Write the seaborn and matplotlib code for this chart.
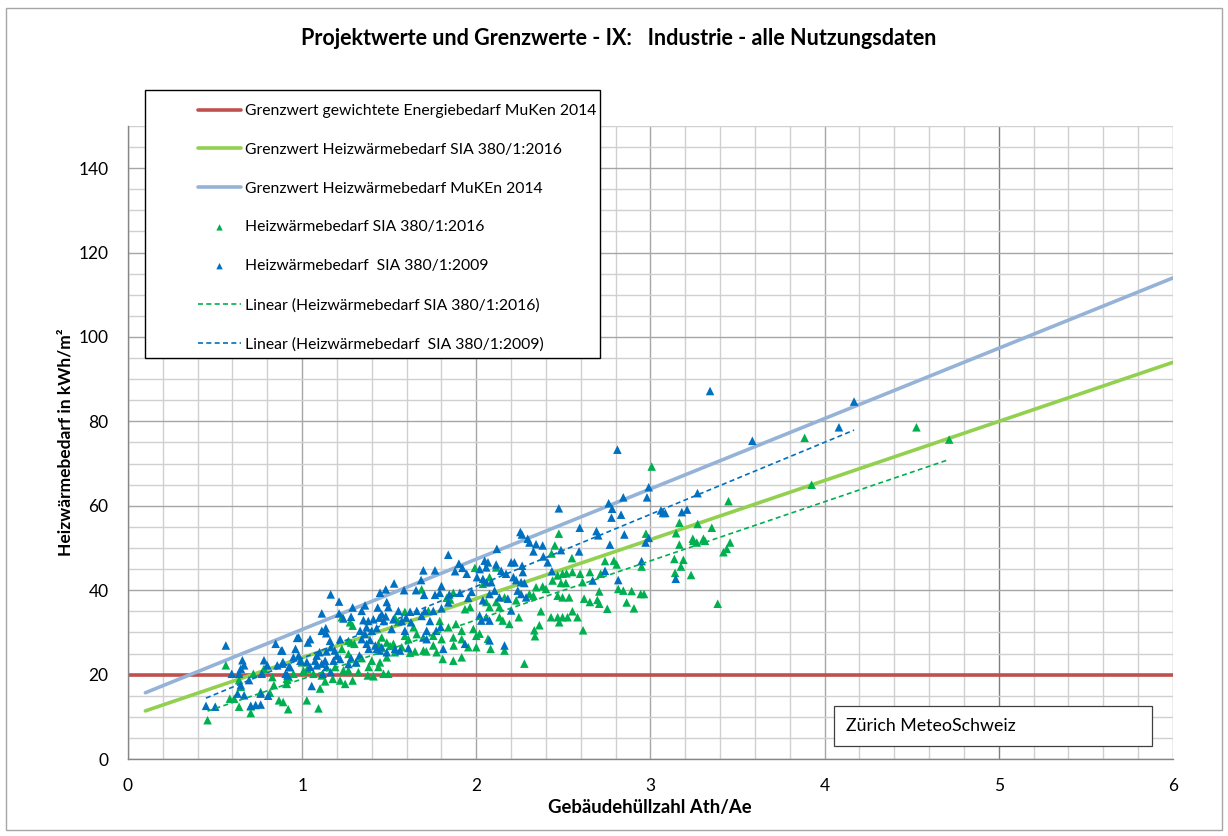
"""Projektwerte und Grenzwerte - Industrie: scatter with limit lines and trends."""

import matplotlib

matplotlib.use("Agg")
import matplotlib.pyplot as plt
import pandas as pd
import seaborn as sns
from matplotlib.patches import Rectangle
from matplotlib.ticker import MultipleLocator

# ---------------------------------------------------------------- data
# Heizwärmebedarf SIA 380/1:2009 (blue triangles), (Ath/Ae, kWh/m2)
sia2009_pts = [
    (0.562, 26.9), (0.657, 23.4), (0.667, 22.2), (0.648, 21.4), (0.596, 20.2), (0.638, 20.2),
    (0.695, 18.7), (0.648, 17.5), (0.629, 15.5), (0.667, 15.1), (0.762, 15.5), (0.805, 15.0),
    (0.768, 20.2), (0.800, 22.2), (0.781, 23.4), (0.857, 22.2), (0.886, 22.6), (0.924, 21.8),
    (0.905, 20.2), (0.848, 27.3), (0.886, 25.7), (0.962, 26.1), (0.971, 28.7), (0.448, 12.6),
    (0.501, 12.4), (0.705, 12.6), (0.733, 12.8), (0.762, 12.9),
    (1.839, 48.4), (1.900, 46.3), (1.696, 44.7), (1.763, 44.7), (1.878, 44.5), (1.920, 45.3),
    (1.945, 43.9), (1.683, 42.4), (1.800, 41.0), (1.528, 41.6), (1.447, 39.4), (1.480, 40.2),
    (1.585, 40.0), (1.654, 40.0), (1.700, 38.9), (1.763, 38.9), (1.790, 39.4), (1.845, 39.0),
    (1.906, 39.4), (1.954, 38.2), (1.973, 39.6), (1.164, 39.0), (1.212, 37.3), (1.486, 37.2),
    (1.495, 36.0), (1.434, 35.9), (1.361, 36.4), (1.290, 35.9), (1.113, 34.5), (1.212, 34.5),
    (1.342, 35.1), (1.457, 34.3), (1.553, 35.1), (1.620, 34.9), (1.658, 35.1), (1.705, 35.1),
    (1.753, 35.1), (1.800, 35.7), (1.839, 37.1), (1.237, 33.3), (1.281, 33.7), (1.352, 32.9),
    (1.380, 32.7), (1.409, 33.1), (1.443, 33.5), (1.480, 33.8), (1.524, 33.1), (1.469, 32.7),
    (1.572, 32.7), (1.597, 33.5), (1.625, 32.4), (1.686, 33.9), (1.734, 32.7), (1.136, 31.0),
    (1.138, 29.8), (1.113, 30.4), (1.333, 30.4), (1.361, 29.6), (1.370, 31.2), (1.400, 30.4),
    (1.428, 31.0), (1.514, 30.8), (1.590, 30.4), (1.696, 28.8), (1.715, 30.4), (1.770, 30.4),
    (1.795, 31.3), (0.980, 28.8), (1.046, 28.4), (1.033, 27.6), (1.218, 28.4), (1.342, 28.4),
    (1.370, 27.3), (1.390, 28.2), (1.420, 26.9), (1.428, 26.1), (1.382, 26.1), (1.447, 25.7),
    (1.457, 26.5), (1.486, 25.3), (1.533, 26.1), (1.562, 25.7), (1.610, 26.3), (1.715, 28.4),
    (1.810, 26.1), (1.935, 27.3), (1.160, 28.0), (1.166, 26.5), (1.140, 25.5), (1.100, 25.3),
    (1.084, 24.5), (1.187, 25.7), (1.200, 24.5), (1.180, 23.3), (1.218, 23.7), (1.132, 23.3),
    (1.140, 21.8), (1.113, 22.6), (1.084, 22.2), (1.046, 21.8), (1.075, 23.3), (1.027, 23.0),
    (0.990, 23.3), (0.950, 24.1), (0.930, 21.8), (0.890, 23.0), (0.880, 25.7), (0.980, 24.5),
    (1.329, 24.5), (1.310, 22.9), (1.281, 23.9), (1.266, 22.5), (1.164, 20.6), (1.118, 20.2),
    (1.055, 17.3), (0.916, 19.8),
    (2.118, 49.8), (2.305, 51.3), (2.343, 50.9), (2.381, 50.6), (2.328, 49.2), (2.385, 48.0),
    (2.410, 46.6), (2.486, 49.5), (2.590, 49.2), (2.434, 44.5), (2.019, 45.0), (2.057, 45.4),
    (2.067, 46.6), (2.048, 47.0), (2.114, 46.1), (2.143, 44.6), (2.171, 43.9), (2.200, 46.6),
    (2.219, 46.6), (2.263, 45.8), (2.267, 44.3), (2.213, 43.1), (2.257, 41.9), (2.276, 41.7),
    (2.229, 42.4), (2.004, 43.1), (2.038, 42.7), (2.086, 41.9), (2.057, 41.9), (2.076, 39.1),
    (2.105, 39.9), (2.133, 38.3), (2.181, 38.0), (2.238, 39.9), (2.257, 39.1), (2.286, 38.3),
    (2.200, 35.2), (2.038, 37.6), (2.029, 32.8), (2.057, 33.6), (2.076, 32.8), (2.019, 34.0),
    (2.076, 28.1), (2.162, 26.9),
    (2.474, 59.4), (2.594, 54.8), (2.253, 53.8), (2.262, 53.2), (2.295, 52.2),
    (2.767, 50.8), (2.972, 51.3), (2.668, 42.3), (2.739, 44.6), (2.815, 42.4), (2.949, 46.9),
    (3.145, 42.7),
    (3.342, 87.2), (3.585, 75.4), (2.810, 73.3), (2.990, 64.4), (2.980, 62.0), (2.844, 62.0),
    (2.760, 60.6), (2.780, 59.3), (2.776, 57.2), (2.831, 57.9), (3.060, 58.9), (3.072, 58.3),
    (3.085, 58.3), (3.180, 58.5), (3.210, 59.1), (3.270, 63.0), (2.690, 54.0), (2.700, 53.0),
    (2.850, 53.2), (2.990, 52.4),
    (4.169, 84.7), (4.082, 78.6),
]

# Heizwärmebedarf SIA 380/1:2016 (green triangles)
sia2016_pts = [
    (0.457, 9.2), (0.562, 22.2), (0.638, 12.4), (0.705, 12.5), (0.705, 10.9), (0.585, 14.3),
    (0.610, 14.3), (0.638, 18.7), (0.648, 17.1), (0.720, 20.2), (0.762, 15.9), (0.815, 15.7),
    (0.838, 17.5), (0.781, 21.4), (0.867, 13.9), (0.891, 13.5), (0.920, 11.8), (0.909, 17.9),
    (0.924, 19.4), (0.829, 19.4),
    (1.992, 45.3), (1.868, 39.4), (1.830, 38.2), (1.850, 37.8), (1.935, 35.5), (1.964, 36.0),
    (1.686, 40.2), (1.590, 34.9), (1.725, 35.1), (1.228, 33.6), (1.275, 32.4), (1.290, 31.6),
    (1.533, 33.5), (1.552, 32.5), (1.640, 31.2), (1.658, 29.6), (1.753, 29.2), (1.790, 32.7),
    (1.840, 31.2), (1.883, 32.0), (1.916, 30.4), (1.983, 30.8), (2.000, 29.2), (1.868, 28.8),
    (1.916, 28.4), (1.870, 26.9), (1.954, 26.5), (2.000, 26.5), (1.801, 28.4), (1.753, 26.9),
    (1.772, 25.3), (1.696, 25.7), (1.648, 25.5), (1.572, 26.5), (1.524, 27.3), (1.486, 27.6),
    (1.457, 28.8), (1.438, 27.3), (1.505, 26.8), (1.533, 25.3), (1.486, 24.1), (1.447, 22.9),
    (1.400, 23.3), (1.382, 21.8), (1.438, 21.8), (1.342, 23.9), (1.310, 22.9), (1.266, 24.9),
    (1.228, 26.1), (1.300, 27.3), (1.280, 27.6), (1.266, 28.0), (1.807, 23.7), (1.868, 23.3),
    (1.916, 24.1), (1.620, 25.2), (1.713, 25.5), (1.610, 28.4), (1.590, 29.2), (1.377, 19.8),
    (1.410, 19.6), (1.495, 20.2), (1.467, 20.2), (1.323, 20.6), (1.266, 21.0), (1.237, 21.0),
    (1.190, 21.8), (1.176, 19.0), (1.218, 18.6), (1.247, 17.8), (1.290, 18.6), (1.132, 18.4),
    (1.103, 16.7), (1.113, 19.8), (1.065, 20.2), (1.030, 21.4), (0.998, 22.9), (1.008, 20.9),
    (0.950, 20.2), (0.912, 19.0), (0.912, 17.8), (1.027, 13.9), (1.094, 12.0),
    (2.451, 50.6), (2.432, 48.7), (2.549, 47.6), (2.467, 43.5), (2.495, 43.9), (2.518, 44.0),
    (2.552, 44.3), (2.596, 43.9), (2.610, 41.9), (2.486, 41.7), (2.514, 41.7), (2.438, 42.3),
    (2.343, 40.7), (2.381, 40.9), (2.400, 40.3), (2.467, 38.7), (2.495, 38.3), (2.533, 38.3),
    (2.619, 38.0), (2.371, 35.0), (2.429, 33.6), (2.467, 33.6), (2.495, 33.6), (2.524, 33.6),
    (2.552, 35.0), (2.581, 33.6), (2.476, 32.4), (2.362, 31.7), (2.333, 30.5), (2.337, 29.1),
    (2.613, 30.5), (2.244, 33.6), (2.276, 22.6), (2.190, 32.0), (2.152, 32.8), (2.133, 33.6),
    (2.229, 37.6), (2.162, 38.3), (2.305, 39.1), (2.328, 38.7), (2.067, 28.5), (2.082, 26.1),
    (2.162, 25.7), (2.019, 29.7), (2.057, 37.2), (2.114, 37.2), (2.076, 36.0), (2.133, 36.0),
    (2.076, 43.1), (2.038, 41.5), (2.114, 45.4),
    (3.166, 50.8), (3.246, 51.7), (3.266, 51.3), (3.313, 51.7), (3.457, 51.3), (3.419, 49.0),
    (3.438, 49.8), (2.739, 46.9), (2.790, 47.0), (2.806, 46.1), (2.949, 45.6), (3.137, 47.4),
    (3.189, 47.2), (3.175, 45.6), (3.141, 44.1), (3.233, 43.6), (2.714, 43.9), (2.652, 44.3),
    (2.706, 39.7), (2.815, 40.3), (2.844, 39.9), (2.892, 39.8), (2.944, 39.1), (2.963, 39.1),
    (2.695, 37.7), (2.706, 36.8), (2.652, 37.2), (2.752, 35.6), (2.863, 37.1), (2.905, 35.7),
    (3.386, 36.8),
    (3.166, 56.0), (3.271, 55.7), (3.147, 53.5), (3.352, 54.8), (2.974, 53.4), (3.243, 52.2),
    (3.304, 52.2), (3.007, 69.3), (3.448, 61.1), (2.474, 53.4),
    (3.885, 76.1), (4.527, 78.6), (4.715, 75.7), (3.925, 65.0),
]

# limit values (Grenzwerte), read at the ends of the drawn lines
limit_x = [0.1, 6.0]
limit_sia2016 = [11.4, 94.0]
limit_muken = [15.7, 114.0]
energy_x = [0.0, 6.0]
energy_limit = [20.0, 20.0]

LABELS = [
    "Grenzwert gewichtete Energiebedarf MuKen 2014",
    "Grenzwert Heizwärmebedarf SIA 380/1:2016",
    "Grenzwert Heizwärmebedarf MuKEn 2014",
    "Heizwärmebedarf SIA 380/1:2016",
    "Heizwärmebedarf  SIA 380/1:2009",
    "Linear (Heizwärmebedarf SIA 380/1:2016)",
    "Linear (Heizwärmebedarf  SIA 380/1:2009)",
]

RED = "#C0504D"
LIME = "#92D050"
LIGHTBLUE = "#95B3D7"
GREEN = "#00B050"
BLUE = "#0070C0"

# ---------------------------------------------------------------- style
sns.set_style("white")
plt.rcParams["font.family"] = ["Lato", "DejaVu Sans"]
plt.rcParams["text.color"] = "#000000"

df09 = pd.DataFrame(sia2009_pts, columns=["ath_ae", "qh"])
df16 = pd.DataFrame(sia2016_pts, columns=["ath_ae", "qh"])

fig = plt.figure(figsize=(12.28, 8.36), dpi=100)
ax = fig.add_axes([0.1042, 0.0921, 0.8510, 0.7572])

# limit lines
sns.lineplot(x=energy_x, y=energy_limit, color=RED, lw=2.6, ax=ax, label=LABELS[0], zorder=2)
sns.lineplot(x=limit_x, y=limit_sia2016, color=LIME, lw=2.6, ax=ax, label=LABELS[1], zorder=2)
sns.lineplot(x=limit_x, y=limit_muken, color=LIGHTBLUE, lw=2.6, ax=ax, label=LABELS[2], zorder=2)

# measured values
sns.scatterplot(data=df16, x="ath_ae", y="qh", marker="^", s=38, color=GREEN,
                edgecolor="none", ax=ax, label=LABELS[3], zorder=3)
sns.scatterplot(data=df09, x="ath_ae", y="qh", marker="^", s=38, color=BLUE,
                edgecolor="none", ax=ax, label=LABELS[4], zorder=3)

# linear trend lines over the data range
sns.regplot(data=df16, x="ath_ae", y="qh", scatter=False, ci=None, truncate=True, ax=ax,
            label=LABELS[5], line_kws=dict(color=GREEN, lw=1.2, ls=(0, (3, 2)), zorder=4))
sns.regplot(data=df09, x="ath_ae", y="qh", scatter=False, ci=None, truncate=True, ax=ax,
            label=LABELS[6], line_kws=dict(color=BLUE, lw=1.2, ls=(0, (3, 2)), zorder=4))

if ax.get_legend() is not None:
    ax.get_legend().remove()

ax.set_xlim(0, 6)
ax.set_ylim(0, 150)
ax.set_xlabel("")
ax.set_ylabel("")
ax.xaxis.set_major_locator(MultipleLocator(1))
ax.xaxis.set_minor_locator(MultipleLocator(0.2))
ax.yaxis.set_major_locator(MultipleLocator(20))
ax.yaxis.set_minor_locator(MultipleLocator(5))
ax.set_axisbelow(True)
ax.grid(which="minor", color="#D0D0D0", lw=1.0)
ax.grid(which="major", color="#A6A6A6", lw=1.0)
for gl, val in zip(ax.xaxis.get_gridlines(), ax.get_xticks()):
    if abs(val - 5) < 1e-6:
        gl.set_color("#7F7F7F")
ax.tick_params(which="major", direction="out", length=4, width=1, color="#868686",
               pad=10, labelsize=12.5, labelcolor="#000000")
ax.tick_params(which="minor", length=0)
for side in ("top", "right"):
    ax.spines[side].set_visible(False)
for side in ("left", "bottom"):
    ax.spines[side].set_color("#868686")
    ax.spines[side].set_linewidth(1.0)

# titles and axis labels
fig.text(0.504, 0.9545, "Projektwerte und Grenzwerte - IX:   Industrie - alle Nutzungsdaten",
         ha="center", va="center", fontsize=15.5, fontweight="bold")
fig.text(0.5295, 0.0335, "Gebäudehüllzahl Ath/Ae", ha="center", va="center",
         fontsize=13.3, fontweight="bold")
fig.text(0.053, 0.4707, "Heizwärmebedarf in kWh/m²", ha="center", va="center",
         rotation=90, fontsize=12.5, fontweight="bold")

# legend with a box that reaches above the plot area
fig.patches.append(Rectangle((0.1181, 0.5718), 0.3705, 0.3206, transform=fig.transFigure,
                             facecolor="white", edgecolor="#000000", lw=1.0, zorder=3))
handles, labels = ax.get_legend_handles_labels()
lookup = dict(zip(labels, handles))
leg = fig.legend([lookup[k] for k in LABELS], LABELS, loc="upper left",
                 bbox_to_anchor=(0.1612, 0.8755), frameon=False, fontsize=11.3,
                 borderpad=0, borderaxespad=0, handlelength=2.75, handletextpad=0.25,
                 labelspacing=1.58, scatterpoints=1, markerscale=0.75)
leg.set_zorder(5)

# station box
fig.patches.append(Rectangle((0.679, 0.1077), 0.259, 0.0478, transform=fig.transFigure,
                             facecolor="white", edgecolor="#404040", lw=0.9, zorder=3))
fig.text(0.689, 0.1316, "Zürich MeteoSchweiz", ha="left", va="center", fontsize=12.8, zorder=4)

# outer frame
fig.patches.append(Rectangle((0.005, 0.007), 0.990, 0.983, transform=fig.transFigure,
                             facecolor="none", edgecolor="#A6A6A6", lw=1.0, zorder=0))

fig.savefig("out.png", dpi=100)
